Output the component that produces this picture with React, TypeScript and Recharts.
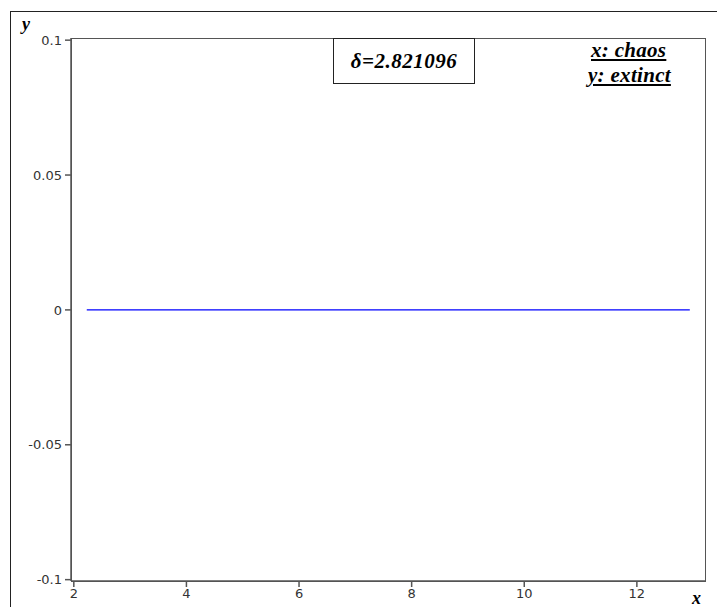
import { Line, LineChart, XAxis, YAxis } from 'recharts';

const xValues = [2.23, 4, 6, 8, 10, 12, 12.94];
const yValues = [0, 0, 0, 0, 0, 0, 0];
const xTicks = [2, 4, 6, 8, 10, 12];
const yTicks = [-0.1, -0.05, 0, 0.05, 0.1];

const data = xValues.map((x, i) => ({ x, y: yValues[i] }));

const serif = '"Liberation Serif", "DejaVu Serif", serif';
const tickStyle = { fontFamily: '"DejaVu Sans", sans-serif', fontSize: 13, fill: '#333' };

// single flat curve inside a framed plot, with annotations overlaid
export default function App() {
  return (
    <div style={{ position: 'absolute', left: 0, top: 0, width: 717, height: 607, background: '#fff', overflow: 'hidden' }}>
      <div style={{ position: 'absolute', left: 10, top: 11, width: 730, height: 620, border: '1.5px solid #222' }} />
      <div style={{ position: 'absolute', left: 71, top: 38, width: 635, height: 544, border: '1.5px solid #555', boxSizing: 'border-box' }} />
      <div style={{ position: 'absolute', left: 0, top: 0 }}>
        <LineChart width={717} height={607} data={data} margin={{ top: 38, right: 12, bottom: 0, left: 11 }}>
          <XAxis
            dataKey="x"
            type="number"
            domain={[1.95, 13.21]}
            ticks={xTicks}
            height={26}
            stroke="#555"
            strokeWidth={1.5}
            tickSize={6}
            tickMargin={2}
            tick={tickStyle}
            allowDataOverflow
          />
          <YAxis
            type="number"
            domain={[-0.1005, 0.1008]}
            ticks={yTicks}
            width={60}
            stroke="#555"
            strokeWidth={1.5}
            tickSize={6}
            tickMargin={3}
            tick={tickStyle}
            allowDataOverflow
          />
          <Line type="linear" dataKey="y" stroke="#0000ff" strokeWidth={1.2} dot={false} isAnimationActive={false} />
        </LineChart>
      </div>
      <div style={{ position: 'absolute', left: 22, top: 14, fontFamily: serif, fontStyle: 'italic', fontWeight: 'bold', fontSize: 18 }}>y</div>
      <div style={{ position: 'absolute', left: 692, top: 588, fontFamily: serif, fontStyle: 'italic', fontWeight: 'bold', fontSize: 18 }}>x</div>
      <div
        style={{
          position: 'absolute',
          left: 333,
          top: 38,
          width: 142,
          height: 46,
          border: '1.5px solid #222',
          boxSizing: 'border-box',
          display: 'flex',
          alignItems: 'center',
          justifyContent: 'center',
          fontFamily: serif,
          fontStyle: 'italic',
          fontWeight: 'bold',
          fontSize: 21,
          letterSpacing: 0.5
        }}
      >
        δ=2.821096
      </div>
      <div
        style={{
          position: 'absolute',
          left: 588,
          top: 38,
          textAlign: 'left',
          fontFamily: serif,
          fontStyle: 'italic',
          fontWeight: 'bold',
          fontSize: 21,
          lineHeight: '25px',
          textDecoration: 'underline',
          letterSpacing: 0.3
        }}
      >
        <div style={{ paddingLeft: 3 }}>x: chaos</div>
        <div>y: extinct</div>
      </div>
    </div>
  );
}
